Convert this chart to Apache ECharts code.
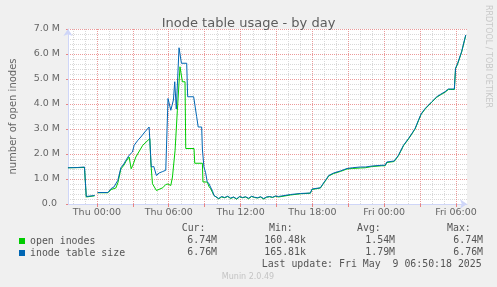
<!DOCTYPE html>
<html>
<head>
<meta charset="utf-8">
<script src="https://cdn.jsdelivr.net/npm/echarts@6/dist/echarts.min.js"></script>
<style>
html,body{margin:0;padding:0;background:#F0F0F0;}
#c{width:497px;height:287px;}
</style>
</head>
<body>
<div id="c"></div>
<script>
// ---- data (hours relative to Thu 00:00, values in millions) ----
const seriesNames = ['open inodes', 'inode table size'];
const openHours = [-2.42,-1.04,-0.89,-0.75,-0.19,-0.08,0.06,0.92,1.19,1.58,1.75,2.0,2.25,2.42,2.69,2.86,3.0,3.25,3.83,4.42,4.5,4.64,4.97,5.5,5.75,5.94,6.17,6.31,6.53,6.72,6.94,7.14,7.36,7.42,8.11,8.17,8.81,8.86,9.22,9.36,9.5,9.78,9.92,
  10.17,10.42,10.67,10.92,11.17,11.42,11.67,11.92,12.17,12.42,12.67,12.92,13.17,13.42,13.67,13.92,14.17,14.42,14.67,14.92,
  15.17,16.17,17.0,17.83,17.97,18.67,18.94,19.17,19.36,19.78,20.33,20.89,21.33,22.0,22.42,23.0,23.81,24.08,24.22,24.83,25.19,25.61,26.03,26.31,26.58,26.86,27.08,27.42,27.97,28.39,28.75,29.08,29.36,29.86,29.96,30.14,30.47,30.81];
const openValues = [1.45,1.46,0.28,0.31,0.33,null,0.45,0.45,0.58,0.64,0.85,1.40,1.55,1.70,1.88,1.41,1.55,1.88,2.35,2.62,1.68,0.81,0.54,0.65,0.78,0.80,0.74,1.08,2.15,3.75,5.49,4.89,4.89,2.22,2.22,1.63,1.63,0.88,0.88,0.70,0.61,0.34,0.26,
  0.21,0.28,0.25,0.30,0.22,0.27,0.19,0.29,0.25,0.28,0.21,0.30,0.26,0.24,0.28,0.20,0.27,0.29,0.26,0.31,
  0.28,0.36,0.41,0.43,0.58,0.64,0.83,0.98,1.12,1.22,1.30,1.40,1.42,1.44,1.45,1.50,1.53,1.53,1.66,1.70,1.93,2.33,2.60,2.80,3.00,3.33,3.58,3.80,4.07,4.27,4.38,4.47,4.58,4.58,5.41,5.61,6.08,6.74];
const sizeHours = [-2.42,-1.6,-1.33,-1.04,-0.89,-0.75,-0.19,-0.08,0.06,0.92,1.19,1.42,1.58,1.75,2.0,2.25,2.42,2.69,2.97,3.11,3.42,3.67,4.0,4.36,4.46,4.54,4.75,4.97,5.19,5.5,5.75,5.83,5.94,6.17,6.39,6.5,6.63,6.86,7.06,7.5,7.58,8.08,8.33,8.46,8.75,8.81,8.94,9.08,9.21,9.36,9.5,9.67,9.78,9.92,
  10.17,10.42,10.67,10.92,11.17,11.42,11.67,11.92,12.17,12.42,12.67,12.92,13.17,13.42,13.67,13.92,14.17,14.42,14.67,14.92,
  15.17,16.17,17.0,17.83,17.97,18.67,18.94,19.17,19.36,19.78,20.33,20.89,21.33,22.0,22.42,23.0,23.81,24.08,24.22,24.83,25.19,25.61,26.03,26.31,26.58,26.86,27.08,27.42,27.97,28.39,28.75,29.08,29.36,29.86,29.96,30.14,30.47,30.81];
const sizeValues = [1.45,1.46,1.47,1.48,0.30,0.32,0.34,null,0.46,0.46,0.62,0.68,0.72,0.95,1.45,1.60,1.75,1.95,2.08,2.35,2.55,2.68,2.88,3.08,3.08,1.48,1.50,1.14,1.24,1.30,1.35,1.40,4.22,3.75,4.16,4.89,3.80,6.25,5.63,5.63,4.29,4.29,3.50,3.08,3.08,2.20,1.48,1.25,0.90,0.81,0.78,0.50,0.34,0.27,
  0.22,0.30,0.26,0.31,0.24,0.28,0.21,0.30,0.26,0.29,0.23,0.31,0.27,0.25,0.29,0.22,0.28,0.30,0.27,0.32,
  0.30,0.38,0.42,0.44,0.60,0.65,0.85,1.00,1.14,1.24,1.32,1.42,1.45,1.48,1.48,1.52,1.55,1.55,1.68,1.72,1.95,2.35,2.62,2.82,3.02,3.35,3.60,3.82,4.09,4.29,4.40,4.49,4.60,4.60,5.43,5.63,6.10,6.76];
const xStart = -2.4167, xEnd = 30.9167;
const yMax = 7;
const xLabelHours = [0, 6, 12, 18, 24, 30];
const xLabelTexts = ['Thu 00:00', 'Thu 06:00', 'Thu 12:00', 'Thu 18:00', 'Fri 00:00', 'Fri 06:00'];
const xMajorHours = [0, 3, 6, 9, 12, 15, 18, 21, 24, 27, 30];
const xMinorHours = [-2,-1,1,2,4,5,7,8,10,11,13,14,16,17,19,20,22,23,25,26,28,29];
const statHeaders = ['Cur:', 'Min:', 'Avg:', 'Max:'];
const openStats = ['6.74M', '160.48k', '1.54M', '6.74M'];
const sizeStats = ['6.76M', '165.81k', '1.79M', '6.76M'];
const lastUpdate = 'Last update: Fri May  9 06:50:18 2025';

const pair = (hs, vs) => hs.map((h, i) => [h, vs[i]]);
const FONT = '"DejaVu Sans", sans-serif';
const MONO = '"DejaVu Sans Mono", monospace';
const TXT = '#666666';
const AXIS = '#CFD6F8';
const MGRID = 'rgba(230,120,120,0.75)';
const GRID = '#D8D8D8';

const PLOT_LEFT = 67, PLOT_W = 400, PLOT_TOP = 29, PLOT_BOTTOM = 83;

const headerX = [181.7, 269, 357, 447];
const valueX = [187.3, 264.3, 365.3, 453.3];
const graphics = [];
statHeaders.forEach((t, i) => graphics.push({type:'text', x: headerX[i], y: 228, style:{text:t, font:'9.9px ' + MONO, fill:'#555', textVerticalAlign:'middle'}}));
openStats.forEach((t, i) => graphics.push({type:'text', x: valueX[i], y: 240, style:{text:t, font:'9.9px ' + MONO, fill:'#555', textVerticalAlign:'middle'}}));
sizeStats.forEach((t, i) => graphics.push({type:'text', x: valueX[i], y: 252, style:{text:t, font:'9.9px ' + MONO, fill:'#555', textVerticalAlign:'middle'}}));
graphics.push({type:'text', x: 261.7, y: 264, style:{text:lastUpdate, font:'9.9px ' + MONO, fill:'#555', textVerticalAlign:'middle'}});
graphics.push({type:'text', x: 248, y: 276.5, style:{text:'Munin 2.0.49', font:'8px ' + FONT, fill:'#C4C4C4', textAlign:'center', textVerticalAlign:'middle'}});
graphics.push({type:'text', x: 488, y: 5, rotation: -Math.PI / 2, style:{text:'RRDTOOL / TOBI OETIKER', font:'8px ' + FONT, fill:'#C8C8C8', textAlign:'left', textVerticalAlign:'middle'}});

const chart = echarts.init(document.getElementById('c'), null, {renderer:'canvas'});
chart.setOption({
  animation: false,
  backgroundColor: '#F0F0F0',
  title: {
    text: 'Inode table usage - by day', left: 'center', top: 12,
    textStyle: {fontFamily: FONT, fontSize: 13, fontWeight: 'normal', color: '#5c5c5c'}
  },
  grid: {left: PLOT_LEFT, width: PLOT_W, top: PLOT_TOP, bottom: PLOT_BOTTOM, show: true, backgroundColor: '#FFFFFF', borderWidth: 0},
  legend: {
    orient: 'vertical', left: 14, top: 231, itemWidth: 6, itemHeight: 6, itemGap: 2,
    icon: 'rect', selectedMode: false,
    textStyle: {fontFamily: MONO, fontSize: 9.9, color: '#555', lineHeight: 10},
    data: seriesNames
  },
  xAxis: {
    type: 'value', min: xStart, max: xEnd, z: 2,
    axisLine: {show: true, onZero: false, lineStyle: {color: AXIS, width: 1}, symbol: ['none', 'arrow'], symbolSize: [7, 7]},
    axisTick: {show: true, customValues: xMajorHours, length: 3, lineStyle: {color: 'rgba(230,120,120,0.9)'}},
    axisLabel: {customValues: xLabelHours, margin: 4, fontFamily: FONT, fontSize: 9.5, color: TXT,
      formatter: v => xLabelTexts[xLabelHours.indexOf(Math.round(v))] || ''},
    splitLine: {show: true, lineStyle: {color: MGRID, type: 'dotted', width: 1}}
  },
  yAxis: {
    type: 'value', min: 0, max: yMax, interval: 1, z: 2,
    name: 'number of open inodes', nameLocation: 'middle', nameGap: 50, nameRotate: 90,
    nameTextStyle: {fontFamily: FONT, fontSize: 10, color: TXT},
    axisLine: {show: true, onZero: false, lineStyle: {color: AXIS, width: 1}, symbol: ['none', 'arrow'], symbolSize: [7, 7]},
    axisTick: {show: true, length: 2, lineStyle: {color: 'rgba(230,120,120,0.9)'}},
    axisLabel: {margin: 8, fontFamily: FONT, fontSize: 9.5, color: TXT,
      formatter: v => v.toFixed(1) + ' ' + (v === 0 ? '' : 'M')},
    splitLine: {show: true, lineStyle: {color: MGRID, type: 'dotted', width: 1}},
    minorTick: {show: false, splitNumber: 5},
    minorSplitLine: {show: true, lineStyle: {color: GRID, type: 'dotted', width: 1}}
  },
  series: [{
    name: 'hour-grid', type: 'custom', silent: true, z: 1, clip: false,
    data: xMinorHours.map(h => [h, 0]),
    renderItem: (params, api) => {
      const bottom = api.coord([api.value(0), 0]);
      const top = api.coord([api.value(0), yMax]);
      const x = Math.round(bottom[0]) + 0.5;
      return {type: 'line', silent: true,
        shape: {x1: x, y1: top[1], x2: x, y2: bottom[1]},
        style: {stroke: GRID, lineWidth: 1, lineDash: [1, 1]}};
    }
  }, {
    name: seriesNames[0], type: 'line', z: 3, data: pair(openHours, openValues),
    showSymbol: false, connectNulls: false, color: '#00CC00', lineStyle: {width: 1, color: '#00CC00'}
  }, {
    name: seriesNames[1], type: 'line', z: 3, data: pair(sizeHours, sizeValues),
    showSymbol: false, connectNulls: false, color: '#0066B3', lineStyle: {width: 1, color: '#0066B3'}
  }],
  graphic: graphics
});
</script>
</body>
</html>
